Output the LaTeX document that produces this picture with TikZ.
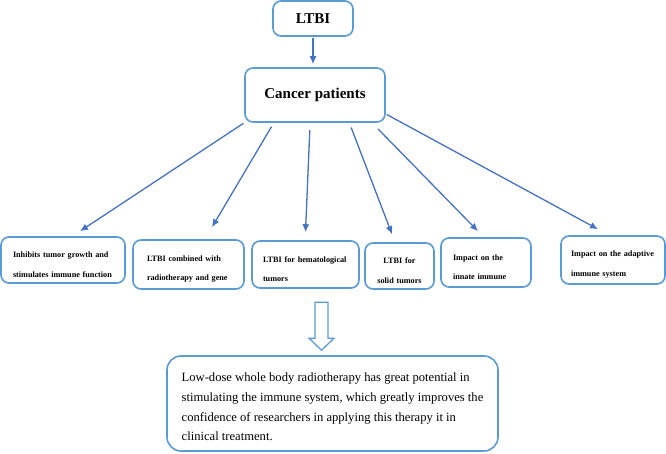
\documentclass[tikz,border=0pt]{standalone}
\usepackage{fontspec}
\setmainfont{Liberation Serif}
\usepackage{tikz}
\usetikzlibrary{arrows.meta,positioning,calc}
\definecolor{boxblue}{RGB}{91,155,213}
\definecolor{lineblue}{RGB}{68,114,196}
\newcommand{\notestrut}{\rule{0pt}{15.6pt}}
\tikzset{
block/.style = {draw=boxblue, line width=1.6pt, fill=white, rectangle, rounded corners=8pt, align=center, font=\bfseries\fontsize{15}{18}\selectfont},
leaf/.style = {block, align=left, inner ysep=0pt, font=\bfseries\fontsize{8.2}{19.5}\selectfont, execute at begin node=\rule{0pt}{15pt}},
note/.style = {block, align=left, rounded corners=14pt, inner sep=0pt, font=\fontsize{12.6}{19.7}\selectfont},
link/.style = {draw=lineblue, line width=1.3pt, ->},
hollow/.style = {draw=boxblue, line width=1.3pt, line join=miter}
}
\begin{document}
\begin{tikzpicture}[x=1pt, y=-1pt, >={Latex[length=8pt,width=7pt]}]
    \useasboundingbox (0,0) rectangle (666,453);
    % top of the tree
    \node[block, minimum width=80pt, minimum height=35pt] (ltbi) at (313,18.5) {LTBI};
    \node[block, minimum width=140pt, minimum height=54pt] (cancer) at (315,95) {Cancer patients};
    \draw[link, shorten <=1pt, shorten >=3pt] (ltbi.south) -- (ltbi.south |- cancer.north);
    % the six effects
    \node[leaf, inner xsep=12pt, text width=100pt, minimum height=46pt] (b1) at (63,260) {Inhibits tumor growth and\\stimulates immune function};
    \node[leaf, inner xsep=14pt, text width=83pt, minimum height=49pt] (b2) at (188.5,264.5) {LTBI combined with\\radiotherapy and gene};
    \node[leaf, inner xsep=11pt, text width=85pt, minimum height=47pt] (b3) at (305.5,264.5) {LTBI for hematological\\tumors};
    \node[leaf, align=center, inner xsep=7pt, text width=55pt, minimum height=46pt] (b4) at (399.5,266) {LTBI for\\solid tumors};
    \node[leaf, inner xsep=12pt, text width=66pt, minimum height=49pt] (b5) at (486,262.5) {Impact on the\\innate immune};
    \node[leaf, inner xsep=10pt, text width=84pt, minimum height=48pt] (b6) at (613,260) {Impact on the adaptive\\immune system};
    \draw[link, shorten <=1pt] (cancer.south west) -- ($(b1.north)+(17,-5)$);
    \draw[link, shorten <=4.5pt] (cancer.214) -- ($(b2.north)+(23.5,-12)$);
    \draw[link, shorten <=7pt] (cancer.260) -- ($(b3.north)+(0,-8)$);
    \draw[link, shorten <=5pt] (cancer.-39) -- ($(b4.north)+(-7.5,-8)$);
    \draw[link, shorten <=8.5pt] (cancer.-26.6) -- ($(b5.north)+(-8,-6)$);
    \draw[link, shorten <=1pt] (cancer.-15.2) -- ($(b6.north)+(-15,-6)$);
    % conclusion
    \node[note, minimum width=331pt, minimum height=95pt] (sum) at (332.5,403.5) {\notestrut Low-dose whole body radiotherapy has great potential in\\stimulating the immune system, which greatly improves the\\confidence of researchers in applying this therapy it in\\clinical treatment.};
    \coordinate (tip) at ($(sum.north)+(-11,-5)$);
    \draw[hollow] ($(tip)+(-6.5,-48)$) -- ($(tip)+(6.5,-48)$) -- ($(tip)+(6.5,-12)$) -- ($(tip)+(12.5,-12)$)
        -- (tip) -- ($(tip)+(-12.5,-12)$) -- ($(tip)+(-6.5,-12)$) -- cycle;
\end{tikzpicture}
\end{document}
